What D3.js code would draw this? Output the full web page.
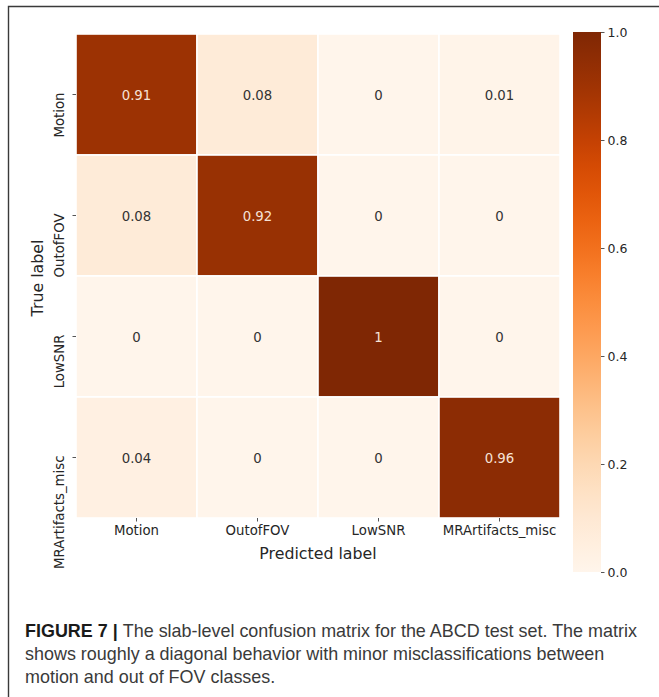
<!DOCTYPE html>
<html>
<head>
<meta charset="utf-8">
<script src="https://cdn.jsdelivr.net/npm/d3@7"></script>
<style>
  html, body { margin: 0; padding: 0; background: #fff; }
  svg { display: block; }
</style>
</head>
<body>
<svg id="fig" width="659" height="697"></svg>
<script>
// Class names (rows = true label, columns = predicted label)
const classes = ["Motion", "OutofFOV", "LowSNR", "MRArtifacts_misc"];

// Normalised confusion matrix, one array per true class
const rowMotion   = [0.91, 0.08, 0, 0.01];
const rowOutofFOV = [0.08, 0.92, 0, 0];
const rowLowSNR   = [0, 0, 1, 0];
const rowMRArt    = [0.04, 0, 0, 0.96];

// Colour bar ticks
const cbarTicks = [0, 0.2, 0.4, 0.6, 0.8, 1.0];

// Caption lines
const captionLead = "FIGURE 7 | ";
const captionLines = [
  "The slab-level confusion matrix for the ABCD test set. The matrix",
  "shows roughly a diagonal behavior with minor misclassifications between",
  "motion and out of FOV classes."
];

const matrix = [rowMotion, rowOutofFOV, rowLowSNR, rowMRArt];
const cells = [];
matrix.forEach((row, i) => row.forEach((v, j) => cells.push({ t: classes[i], p: classes[j], v })));

const svg = d3.select("#fig");
const font = "'DejaVu Sans', sans-serif";
const textCol = "#262626";

svg.append("rect").attr("width", 659).attr("height", 697).attr("fill", "#fff");

// Panel frame (left and top edges)
svg.append("path")
  .attr("d", "M8.5,697 V6.5 H659")
  .attr("fill", "none")
  .attr("stroke", "#3a3a3a")
  .attr("stroke-width", 1.4);

const x = d3.scaleBand().domain(classes).range([76, 560]);
const y = d3.scaleBand().domain(classes).range([34, 518]);
const color = d3.scaleSequential(d3.interpolateOranges).domain([0, 1]);

// Heatmap cells
svg.append("g").selectAll("rect")
  .data(cells)
  .join("rect")
  .attr("x", d => x(d.p))
  .attr("y", d => y(d.t))
  .attr("width", x.bandwidth())
  .attr("height", y.bandwidth())
  .attr("fill", d => color(d.v))
  .attr("stroke", "#fff")
  .attr("stroke-width", 1.6);

// Cell annotations
svg.append("g").selectAll("text")
  .data(cells)
  .join("text")
  .attr("x", d => x(d.p) + x.bandwidth() / 2)
  .attr("y", d => y(d.t) + y.bandwidth() / 2 + 1)
  .attr("dy", "0.35em")
  .attr("text-anchor", "middle")
  .attr("font-family", font)
  .attr("font-size", 13.3)
  .attr("fill", d => d.v > 0.5 ? "#f6e2d6" : "#333")
  .text(d => String(d.v));

// X axis
const gx = svg.append("g")
  .attr("transform", "translate(0,518)")
  .call(d3.axisBottom(x).tickSize(3.5).tickPadding(4));
gx.select(".domain").remove();
gx.selectAll("line").attr("stroke", "#555");
gx.selectAll("text").attr("font-family", font).attr("font-size", 13.3).attr("fill", textCol);

// Y axis: vertical labels hanging below each tick
const gy = svg.append("g")
  .attr("transform", "translate(76,0)")
  .call(d3.axisLeft(y).tickSize(3.5));
gy.select(".domain").remove();
gy.selectAll("line").attr("stroke", "#555");
gy.selectAll("text")
  .attr("x", 0).attr("y", 0).attr("dy", "0.35em")
  .attr("text-anchor", "end")
  .attr("transform", "translate(-17,-2) rotate(-90)")
  .attr("font-family", font).attr("font-size", 13.3).attr("fill", textCol);

// Axis titles
svg.append("text")
  .attr("x", 318).attr("y", 559)
  .attr("text-anchor", "middle")
  .attr("font-family", font).attr("font-size", 15.8).attr("fill", textCol)
  .text("Predicted label");
svg.append("text")
  .attr("transform", "translate(37,278) rotate(-90)")
  .attr("dy", "0.35em")
  .attr("text-anchor", "middle")
  .attr("font-family", font).attr("font-size", 15.8).attr("fill", textCol)
  .text("True label");

// Colour bar
const cb = d3.scaleLinear().domain([0, 1]).range([572, 32]);
const grad = svg.append("defs").append("linearGradient")
  .attr("id", "cbar").attr("x1", 0).attr("y1", 1).attr("x2", 0).attr("y2", 0);
d3.range(0, 1.0001, 0.05).forEach(t => {
  grad.append("stop").attr("offset", t).attr("stop-color", color(t));
});
svg.append("rect")
  .attr("x", 573).attr("y", cb(1))
  .attr("width", 28).attr("height", cb(0) - cb(1))
  .attr("fill", "url(#cbar)");
const gc = svg.append("g")
  .attr("transform", "translate(601,0)")
  .call(d3.axisRight(cb).tickValues(cbarTicks).tickFormat(d3.format(".1f")).tickSize(3.5).tickPadding(3));
gc.select(".domain").remove();
gc.selectAll("line").attr("stroke", "#555");
gc.selectAll("text").attr("font-family", font).attr("font-size", 12.5).attr("fill", textCol);

// Caption: one horizontal squeeze factor, set by the first line's printed width
const capFont = "'Liberation Sans', Arial, sans-serif";
const capX = 25;
const capFirstWidth = 612;
const capY = [637, 660, 683];
const capNodes = captionLines.map((line, i) => {
  const t = svg.append("text")
    .attr("x", 0).attr("y", 0)
    .attr("font-family", capFont).attr("font-size", 17.5).attr("fill", "#3a3a3a");
  if (i === 0) {
    t.append("tspan").attr("font-weight", "bold").attr("fill", "#1a1a1a").text(captionLead);
  }
  t.append("tspan").text(line);
  return t;
});
const sx = capFirstWidth / capNodes[0].node().getComputedTextLength();
capNodes.forEach((t, i) => t.attr("transform", `translate(${capX},${capY[i]}) scale(${sx},1)`));
</script>
</body>
</html>
